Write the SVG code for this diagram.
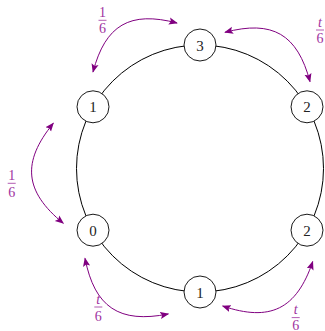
<svg xmlns="http://www.w3.org/2000/svg" width="325" height="331" viewBox="0 0 325 331">
<defs>
<marker id="ah" viewBox="0 0 10 10" refX="9" refY="5" markerWidth="9" markerHeight="9" markerUnits="userSpaceOnUse" orient="auto-start-reverse">
<path d="M0,1 L10,5 L0,9 L2,5 Z" fill="#800080"/>
</marker>
</defs>
<style>
.ring{fill:none;stroke:#000;stroke-width:1}
.node circle{fill:#fff;stroke:#000;stroke-width:0.9}
.node text{font-family:"Liberation Serif","DejaVu Serif",serif;font-size:15px;text-anchor:middle;fill:#222}
.arr{fill:none;stroke:#800080;stroke-width:1;marker-start:url(#ah);marker-end:url(#ah)}
.lab text{font-family:"Liberation Serif","DejaVu Serif",serif;font-size:14px;text-anchor:middle;fill:#a033a0}
.lab text.it{font-style:italic}
.lab line{stroke:#a033a0;stroke-width:0.8}
</style>
<g id="connectors">
<circle class="ring" cx="200" cy="168.5" r="123.5"/>
<path class="arr" d="M93,72 C105.4,24.9 129.9,10.6 177,23"/>
<path class="arr" d="M225,32.3 C272.6,19.7 297.4,34.1 310,81.7"/>
<path class="arr" d="M53.3,123.3 C21.5,162.2 24.4,191.5 63.3,223.3"/>
<path class="arr" d="M85,258.3 C94.7,307.4 119.2,323.7 168.3,314"/>
<path class="arr" d="M222.7,306 C270.2,322.2 296.5,309.2 312.7,261.7"/>
</g>
<g id="n3" class="node"><circle cx="200" cy="45" r="16"/><text x="200" y="50.5">3</text></g>
<g id="n2a" class="node"><circle cx="307" cy="106.8" r="16"/><text x="307" y="112.3">2</text></g>
<g id="n2b" class="node"><circle cx="307" cy="230.2" r="16"/><text x="307" y="235.7">2</text></g>
<g id="n1b" class="node"><circle cx="200" cy="292" r="16"/><text x="200" y="297.5">1</text></g>
<g id="n0" class="node"><circle cx="93" cy="230.2" r="16"/><text x="93" y="235.7">0</text></g>
<g id="n1a" class="node"><circle cx="93" cy="106.8" r="16"/><text x="93" y="112.3">1</text></g>
<g id="labels" class="lab">
<text x="102.5" y="17">1</text><line x1="98.5" y1="20.3" x2="106.5" y2="20.3"/><text x="102.5" y="33">6</text>
<text class="it" x="320" y="26.7">t</text><line x1="316" y1="30" x2="324" y2="30"/><text x="320" y="43.3">6</text>
<text x="11.7" y="180">1</text><line x1="7.7" y1="183.3" x2="15.7" y2="183.3"/><text x="11.7" y="196.7">6</text>
<text class="it" x="98.3" y="303.7">t</text><line x1="94.3" y1="307" x2="102.3" y2="307"/><text x="98.3" y="321">6</text>
<text class="it" x="295.7" y="314.3">t</text><line x1="291.7" y1="317.6" x2="299.7" y2="317.6"/><text x="295.7" y="329.5">6</text>
</g>
</svg>
